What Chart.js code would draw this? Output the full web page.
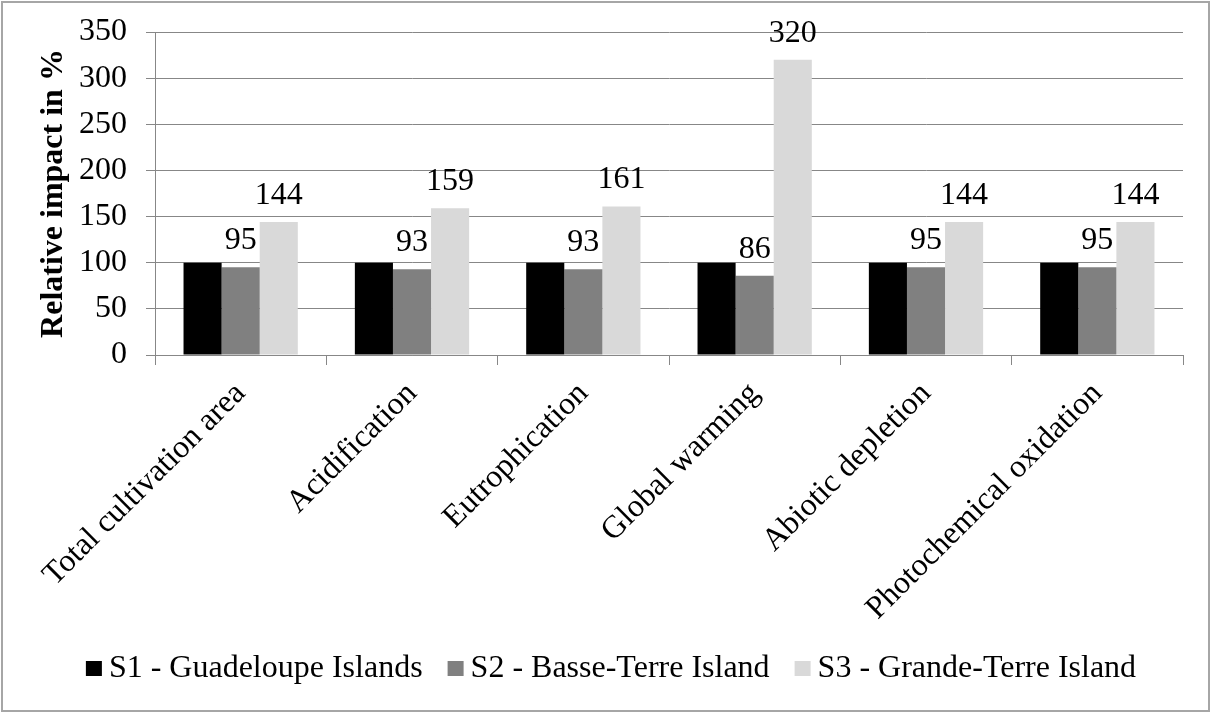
<!DOCTYPE html>
<html>
<head>
<meta charset="utf-8">
<script src="https://cdn.jsdelivr.net/npm/chart.js@4/dist/chart.umd.min.js"></script>
<style>
  html, body { margin: 0; padding: 0; background: #ffffff; }
  #wrap { width: 1212px; height: 713px; }
</style>
</head>
<body>
<div id="wrap"><canvas id="chart" width="1212" height="713"></canvas></div>
<script>
// Impact categories on the x axis
const categories = [
  'Total cultivation area',
  'Acidification',
  'Eutrophication',
  'Global warming',
  'Abiotic depletion',
  'Photochemical oxidation'
];

// Scenario names
const seriesNames = [
  'S1 - Guadeloupe Islands',
  'S2 - Basse-Terre Island',
  'S3 - Grande-Terre Island'
];

// Relative impact (%) per scenario
const s1Values = [100, 100, 100, 100, 100, 100];
const s2Values = [95, 93, 93, 86, 95, 95];
const s3Values = [144, 159, 161, 320, 144, 144];

// Value axis ticks
const yTicks = [0, 50, 100, 150, 200, 250, 300, 350];

const seriesColors = ['#000000', '#808080', '#d9d9d9'];
const FONT = '"Liberation Serif", "Times New Roman", Times, serif';
const GRID = '#878787';

Chart.defaults.font.family = FONT;
Chart.defaults.color = '#000000';

// Value labels above the S2 and S3 bars
const valueLabels = {
  id: 'valueLabels',
  afterDatasetsDraw(chart) {
    const ctx = chart.ctx;
    ctx.save();
    ctx.font = '32px ' + FONT;
    ctx.fillStyle = '#000000';
    ctx.textAlign = 'center';
    ctx.textBaseline = 'alphabetic';
    [1, 2].forEach(di => {
      const meta = chart.getDatasetMeta(di);
      meta.data.forEach((bar, i) => {
        ctx.fillText(String(chart.data.datasets[di].data[i]), bar.x, bar.y - 18);
      });
    });
    ctx.restore();
  }
};

// Compact legend row with square swatches
const swatchLegend = {
  id: 'swatchLegend',
  afterDraw(chart) {
    const ctx = chart.ctx;
    const box = 16, boxH = 15, gap = 7, itemGap = 25;
    const centerX = 611, baseline = 677;
    ctx.save();
    ctx.font = '32px ' + FONT;
    const items = chart.data.datasets.map(ds => ({
      text: ds.label, color: ds.backgroundColor, w: ctx.measureText(ds.label).width
    }));
    const total = items.reduce((s, it) => s + box + gap + it.w, 0) + itemGap * (items.length - 1);
    let x = centerX - total / 2;
    ctx.textBaseline = 'alphabetic';
    ctx.textAlign = 'left';
    items.forEach(it => {
      ctx.fillStyle = it.color;
      ctx.fillRect(x, baseline - 16, box, boxH);
      x += box + gap;
      ctx.fillStyle = '#000000';
      ctx.fillText(it.text, x, baseline);
      x += it.w + itemGap;
    });
    ctx.restore();
  }
};

// Thin frame around the whole chart
const frame = {
  id: 'frame',
  afterDraw(chart) {
    const ctx = chart.ctx;
    ctx.save();
    ctx.strokeStyle = '#a6a6a6';
    ctx.lineWidth = 2;
    ctx.strokeRect(2, 2, chart.width - 5, chart.height - 4);
    ctx.restore();
  }
};

const datasets = [s1Values, s2Values, s3Values].map((vals, i) => ({
  label: seriesNames[i],
  data: vals,
  backgroundColor: seriesColors[i],
  borderWidth: 0,
  categoryPercentage: 0.667,
  barPercentage: 1.0
}));

new Chart(document.getElementById('chart'), {
  type: 'bar',
  data: { labels: categories, datasets },
  options: {
    responsive: false,
    animation: false,
    layout: { padding: { left: 10, right: 29, top: 32, bottom: 70 } },
    plugins: {
      legend: { display: false },
      tooltip: { enabled: false }
    },
    scales: {
      x: {
        offset: true,
        grid: {
          offset: true,
          drawOnChartArea: false,
          drawTicks: true,
          tickLength: 10,
          color: GRID,
          lineWidth: 1
        },
        border: { display: true, color: GRID, width: 1 },
        ticks: {
          autoSkip: false,
          minRotation: 45,
          maxRotation: 45,
          padding: 10,
          color: '#000000',
          font: { size: 32, family: FONT }
        },
        afterFit(scale) { scale.height = 288; }
      },
      y: {
        min: 0,
        max: 350,
        afterBuildTicks(scale) { scale.ticks = yTicks.map(v => ({ value: v })); },
        grid: {
          color: GRID,
          lineWidth: 1,
          drawTicks: true,
          tickLength: 9
        },
        border: { display: true, color: GRID, width: 1 },
        ticks: {
          padding: 19,
          color: '#000000',
          font: { size: 32, family: FONT }
        },
        title: {
          display: true,
          text: 'Relative impact in %',
          color: '#000000',
          font: { size: 32, weight: 'bold', family: FONT },
          padding: { top: 25, bottom: 0 }
        },
        afterFit(scale) {
          scale.width = 145;
          scale.paddingTop = 0;
        }
      }
    }
  },
  plugins: [valueLabels, swatchLegend, frame]
});
</script>
</body>
</html>
